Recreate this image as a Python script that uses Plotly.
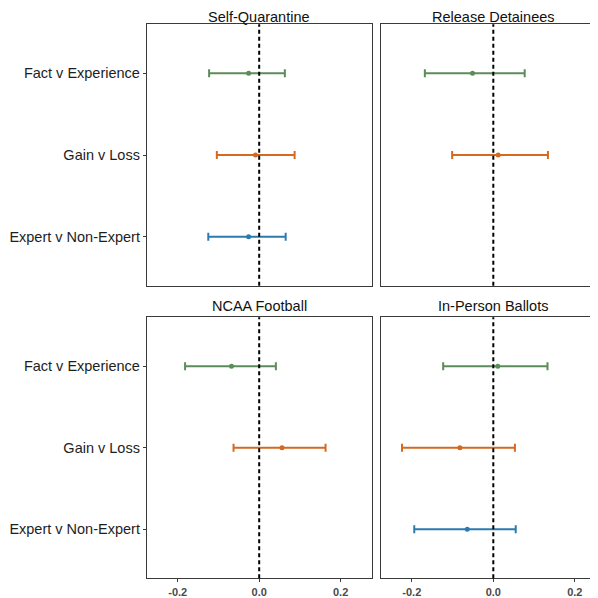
import plotly.graph_objects as go

# ---- data ----
panels = ["Self-Quarantine", "Release Detainees", "NCAA Football", "In-Person Ballots"]
contrasts = ["Expert v Non-Expert", "Gain v Loss", "Fact v Experience"]
contrast_pos = [1, 2, 3]
colors = {"Fact v Experience": "#5b8c5a", "Gain v Loss": "#d4691f", "Expert v Non-Expert": "#2b7bb0"}

# estimates, lower and upper bounds per panel (missing = not shown)
sq_est = {"Fact v Experience": -0.026, "Gain v Loss": -0.009, "Expert v Non-Expert": -0.026}
sq_lo = {"Fact v Experience": -0.123, "Gain v Loss": -0.104, "Expert v Non-Expert": -0.125}
sq_hi = {"Fact v Experience": 0.063, "Gain v Loss": 0.087, "Expert v Non-Expert": 0.065}

rd_est = {"Fact v Experience": -0.051, "Gain v Loss": 0.012}
rd_lo = {"Fact v Experience": -0.168, "Gain v Loss": -0.101}
rd_hi = {"Fact v Experience": 0.077, "Gain v Loss": 0.134}

nf_est = {"Fact v Experience": -0.068, "Gain v Loss": 0.056}
nf_lo = {"Fact v Experience": -0.182, "Gain v Loss": -0.063}
nf_hi = {"Fact v Experience": 0.041, "Gain v Loss": 0.163}

ib_est = {"Fact v Experience": 0.011, "Gain v Loss": -0.082, "Expert v Non-Expert": -0.064}
ib_lo = {"Fact v Experience": -0.123, "Gain v Loss": -0.224, "Expert v Non-Expert": -0.194}
ib_hi = {"Fact v Experience": 0.133, "Gain v Loss": 0.053, "Expert v Non-Expert": 0.055}

x_ticks = [-0.2, 0.0, 0.2]
x_tick_labels = ["-0.2", "0.0", "0.2"]

panel_data = [(sq_est, sq_lo, sq_hi), (rd_est, rd_lo, rd_hi), (nf_est, nf_lo, nf_hi), (ib_est, ib_lo, ib_hi)]

# ---- layout geometry (pixels, viewport coords; page body has 8px margin) ----
OFF = 8
W = H = 598 - OFF
def px_x(a, b):
    return [(a - OFF) / W, (b - OFF) / W]
def px_y(top, bottom):
    return [1 - (bottom - OFF) / H, 1 - (top - OFF) / H]

x_domains = [px_x(147, 372), px_x(381, 598), px_x(147, 372), px_x(381, 598)]
y_domains = [px_y(24.3, 285.7), px_y(24.3, 285.7), px_y(317.3, 578.3), px_y(317.3, 578.3)]
x_ranges = [[-0.2755, 0.277], [-0.2756, 0.2569], [-0.2755, 0.277], [-0.2756, 0.2569]]
title_top = [7, 7, 297, 297]

fig = go.Figure()
layout = dict(width=W, height=H, margin=dict(l=0, r=0, t=0, b=0),
              plot_bgcolor="white", paper_bgcolor="white", showlegend=False,
              font=dict(family="Liberation Sans, Arial, sans-serif"))
shapes = []
annotations = []
linec = "#3a3a3a"

for i, (name, (est, lo, hi)) in enumerate(zip(panels, panel_data)):
    n = i + 1
    xa = "x" if n == 1 else f"x{n}"
    ya = "y" if n == 1 else f"y{n}"
    for c, pos in zip(contrasts, contrast_pos):
        if c not in est:
            continue
        fig.add_trace(go.Scatter(
            x=[est[c]], y=[pos], xaxis=xa, yaxis=ya, mode="markers",
            marker=dict(color=colors[c], size=5),
            error_x=dict(type="data", symmetric=False,
                         array=[hi[c] - est[c]], arrayminus=[est[c] - lo[c]],
                         color=colors[c], thickness=2, width=4),
            hoverinfo="skip"))
    left = (n in (1, 3))
    bottom = (n in (3, 4))
    layout[f"xaxis{'' if n == 1 else n}"] = dict(
        domain=x_domains[i], range=x_ranges[i], anchor=ya,
        showgrid=False, zeroline=False, showline=True, mirror=True,
        linecolor=linec, linewidth=1.3,
        tickmode="array", tickvals=x_ticks, ticktext=x_tick_labels,
        showticklabels=bottom, ticks="outside" if bottom else "", ticklen=3,
        tickcolor=linec, tickwidth=1,
        tickfont=dict(size=11, color="#4a4a4a", family="Liberation Sans, Arial, sans-serif", weight="bold"),
    )
    layout[f"yaxis{'' if n == 1 else n}"] = dict(
        domain=y_domains[i], range=[0.4, 3.6], anchor=xa,
        showgrid=False, zeroline=False, showline=True, mirror=left,
        linecolor=linec, linewidth=1.3,
        tickmode="array", tickvals=contrast_pos, ticktext=contrasts,
        showticklabels=left, ticks="outside" if left else "", ticklen=3,
        tickcolor=linec, tickwidth=1,
        tickfont=dict(size=14.5, color="#1e1e1e"),
    )
    shapes.append(dict(type="line", xref=xa, yref=f"{ya} domain", x0=0, x1=0, y0=0, y1=1,
                       line=dict(color="black", width=2, dash="4px,3px")))
    annotations.append(dict(text=name, xref=xa, yref="paper", x=0,
                            y=min(1.0, 1 - (title_top[i] - OFF) / H),
                            showarrow=False, xanchor="center", yanchor="top", borderpad=0,
                            font=dict(size=14.5, color="#111111")))

layout["shapes"] = shapes
layout["annotations"] = annotations
fig.update_layout(**layout)
fig.write_html("out.html")
